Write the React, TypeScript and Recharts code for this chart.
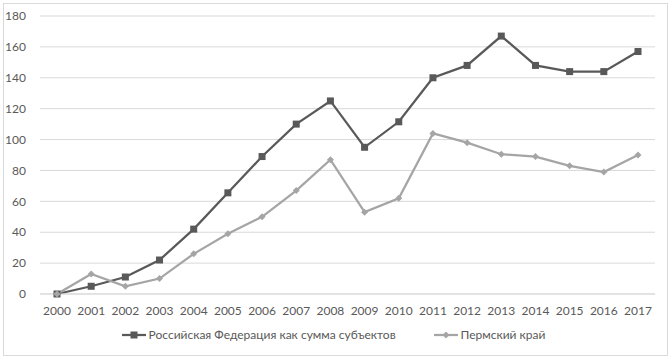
import { LineChart, Line, XAxis, YAxis, CartesianGrid, Legend } from "recharts";

const years = [
  "2000", "2001", "2002", "2003", "2004", "2005", "2006", "2007", "2008",
  "2009", "2010", "2011", "2012", "2013", "2014", "2015", "2016", "2017",
];
const russia = [0, 5, 11, 22, 42, 65.5, 89, 110, 125, 95, 111.5, 140, 148, 167, 148, 144, 144, 157];
const perm = [0, 13, 5, 10, 26, 39, 50, 67, 87, 53, 62, 104, 98, 90.5, 89, 83, 79, 90];
const yTicks = [0, 20, 40, 60, 80, 100, 120, 140, 160, 180];

const SERIES = [
  { key: "rf", name: "Российская Федерация как сумма субъектов", color: "#595959", shape: "square" },
  { key: "perm", name: "Пермский край", color: "#a5a5a5", shape: "diamond" },
];

const data = years.map((y, i) => ({ year: y, rf: russia[i], perm: perm[i] }));

const FONT = "Lato, 'Open Sans', sans-serif";
const TEXT = "#595959";

function SquareDot(props: any) {
  const { cx, cy } = props;
  if (cx == null || cy == null) return null;
  return <rect x={cx - 3.5} y={cy - 3.5} width={7} height={7} fill="#595959" />;
}

function DiamondDot(props: any) {
  const { cx, cy } = props;
  if (cx == null || cy == null) return null;
  return (
    <path d={`M${cx},${cy - 3.5} L${cx + 3.5},${cy} L${cx},${cy + 3.5} L${cx - 3.5},${cy} Z`} fill="#a5a5a5" />
  );
}

function LegendContent() {
  return (
    <div
      style={{
        display: "flex",
        justifyContent: "center",
        gap: 38,
        fontFamily: FONT,
        fontSize: 12,
        color: TEXT,
        marginTop: -1,
        paddingLeft: 12,
      }}
    >
      {SERIES.map((s) => (
        <div key={s.key} style={{ display: "flex", alignItems: "center", gap: 3 }}>
          <svg width={24} height={10}>
            <line x1={0} y1={5} x2={24} y2={5} stroke={s.color} strokeWidth={2.25} />
            {s.shape === "square" ? (
              <rect x={8.5} y={1.5} width={7} height={7} fill={s.color} />
            ) : (
              <path d="M12,1.5 L15.5,5 L12,8.5 L8.5,5 Z" fill={s.color} />
            )}
          </svg>
          <span>{s.name}</span>
        </div>
      ))}
    </div>
  );
}

export default function App() {
  return (
    <div style={{ position: "absolute", left: 0, top: 0, width: 670, height: 359, background: "#fff" }}>
      <div
        style={{
          position: "absolute",
          left: 3,
          top: 3,
          width: 663,
          height: 351,
          border: "1px solid #d9d9d9",
        }}
      />
      <LineChart
        width={670}
        height={359}
        data={data}
        margin={{ top: 16, right: 15, left: 0, bottom: 10 }}
        style={{ position: "absolute", left: 0, top: 0 }}
      >
        <CartesianGrid vertical={false} stroke="#d9d9d9" />
        <XAxis
          dataKey="year"
          axisLine={{ stroke: "#d9d9d9" }}
          tickLine={false}
          tick={{ fontSize: 12, fill: TEXT, fontFamily: FONT }}
          tickMargin={6}
          padding={{ left: 17, right: 17 }}
          interval={0}
          height={34}
        />
        <YAxis
          domain={[0, 180]}
          ticks={yTicks}
          width={40}
          axisLine={false}
          tickLine={false}
          tick={{ fontSize: 12, fill: TEXT, fontFamily: FONT }}
          tickMargin={8}
        />
        <Legend verticalAlign="bottom" height={21} content={<LegendContent />} />
        <Line
          dataKey="rf"
          name={SERIES[0].name}
          stroke="#595959"
          strokeWidth={2.25}
          dot={<SquareDot />}
          activeDot={false}
          isAnimationActive={false}
        />
        <Line
          dataKey="perm"
          name={SERIES[1].name}
          stroke="#a5a5a5"
          strokeWidth={2.25}
          dot={<DiamondDot />}
          activeDot={false}
          isAnimationActive={false}
        />
      </LineChart>
    </div>
  );
}
